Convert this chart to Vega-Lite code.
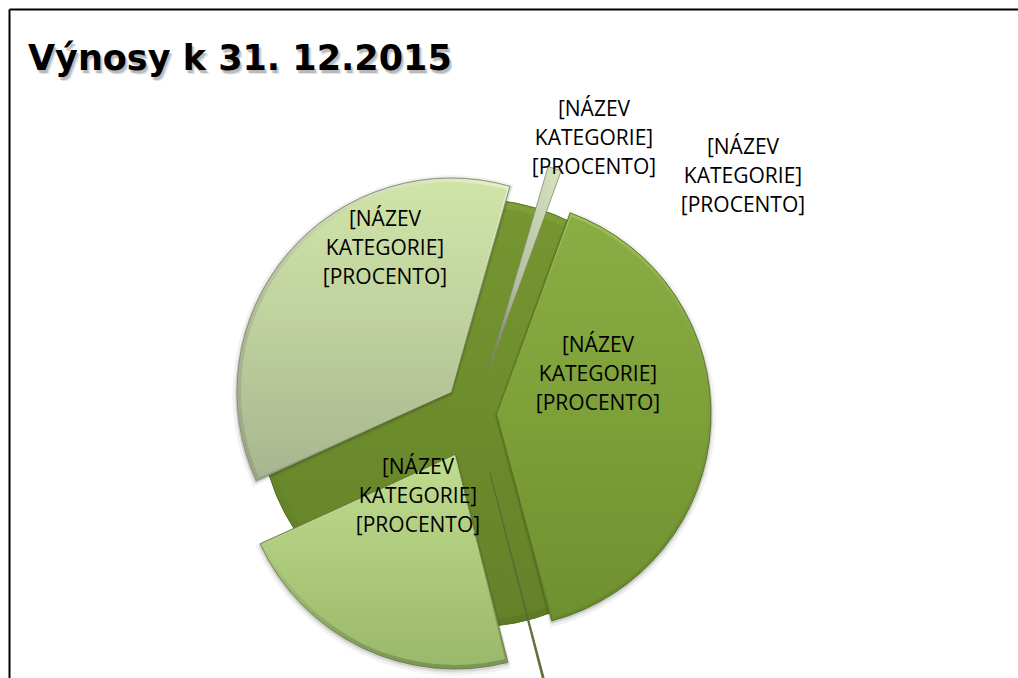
{
"$schema":"https://vega.github.io/schema/vega-lite/v6.json",
"width":1009,"height":669,"autosize":{"type":"none"},"padding":{"left":9,"top":9,"right":0,"bottom":0},
"background":"white","view":{"stroke":null},
"datasets":{
"slices":[
{"slice":"pie","start":0,"end":360,"cx":0,"cy":0},
{"slice":"a","start":20,"end":165.2,"cx":23,"cy":-1},
{"slice":"b","start":165.2,"end":165.7,"cx":16,"cy":-60},
{"slice":"c","start":165.7,"end":245.5,"cx":-19,"cy":-42},
{"slice":"d","start":245.5,"end":376,"cx":-23,"cy":21},
{"slice":"e","start":16.3,"end":20,"cx":14,"cy":41}
],
"labels":[
{"label":"[NÁZEV\nKATEGORIE]\n[PROCENTO]","cx":120,"cy":303},
{"label":"[NÁZEV\nKATEGORIE]\n[PROCENTO]","cx":269,"cy":265},
{"label":"[NÁZEV\nKATEGORIE]\n[PROCENTO]","cx":-89,"cy":193},
{"label":"[NÁZEV\nKATEGORIE]\n[PROCENTO]","cx":124,"cy":67},
{"label":"[NÁZEV\nKATEGORIE]\n[PROCENTO]","cx":-56,"cy":-55}
],
"title":[{"label":"Výnosy k 31. 12.2015","cx":-446,"cy":343}]
},
"encoding":{
"x":{"field":"cx","type":"quantitative","scale":{"domain":[-465,544],"nice":false,"zero":false},"axis":{"orient":"top","title":null,"labels":false,"ticks":false,"grid":false,"domain":true,"domainColor":"#000000","domainWidth":2}},
"y":{"field":"cy","type":"quantitative","scale":{"domain":[-265,404],"nice":false,"zero":false},"axis":{"orient":"left","title":null,"labels":false,"ticks":false,"grid":false,"domain":true,"domainColor":"#000000","domainWidth":2}}
},
"layer":[
{"data":{"name":"slices"},
"encoding":{
"theta":{"field":"start","type":"quantitative","stack":null,"scale":{"domain":[0,360],"range":[0,6.283185],"nice":false,"zero":false}},
"theta2":{"field":"end"}
},
"layer":[
{"transform":[{"filter":"datum.slice==='pie'"}],"mark":{"type":"arc","outerRadius":214,"fill":{"gradient":"linear","x1":0,"y1":0,"x2":0,"y2":1,"stops":[{"offset":0,"color":"#7f9f38"},{"offset":0.5,"color":"#6b8a2c"},{"offset":1,"color":"#5d7a25"}]},"stroke":"#55701f","strokeWidth":1}},
{"transform":[{"filter":"datum.slice==='pie'"}],"mark":{"type":"arc","outerRadius":207,"fill":{"gradient":"linear","x1":0,"y1":0,"x2":0,"y2":1,"stops":[{"offset":0,"color":"#769632"},{"offset":0.5,"color":"#6d8c2c"},{"offset":1,"color":"#648228"}]}}},
{"transform":[{"filter":"datum.slice==='a'||datum.slice==='c'||datum.slice==='d'"}],"mark":{"type":"arc","outerRadius":216,"fill":"#000000","fillOpacity":0.05,"stroke":"#000000","strokeOpacity":0.05,"strokeWidth":5,"yOffset":2}},
{"transform":[{"filter":"datum.slice==='a'||datum.slice==='c'||datum.slice==='d'"}],"mark":{"type":"arc","outerRadius":214,"fill":"#000000","fillOpacity":0.08,"stroke":"#000000","strokeOpacity":0.1,"strokeWidth":3,"yOffset":1}},
{"transform":[{"filter":"datum.slice==='b'"}],"mark":{"type":"arc","outerRadius":214,"fill":"#5c6c38","stroke":"#5c6c38","strokeWidth":0.9}},
{"transform":[{"filter":"datum.slice==='e'"}],"mark":{"type":"arc","outerRadius":214,"fill":{"gradient":"linear","x1":1,"y1":0,"x2":0,"y2":1,"stops":[{"offset":0,"color":"#d9e4c2"},{"offset":0.6,"color":"#b4bfa0"},{"offset":1,"color":"#6d7558"}]},"stroke":"#7f8968","strokeWidth":0.8}},
{"transform":[{"filter":"datum.slice==='d'"}],"mark":{"type":"arc","outerRadius":214,"fill":{"gradient":"linear","x1":0.9,"y1":0,"x2":0.1,"y2":1,"stops":[{"offset":0,"color":"#e2efc5"},{"offset":1,"color":"#9aa684"}]},"stroke":"#8a9475","strokeWidth":1}},
{"transform":[{"filter":"datum.slice==='d'"}],"mark":{"type":"arc","outerRadius":210,"padAngle":0.02,"fill":{"gradient":"linear","x1":0,"y1":0,"x2":0,"y2":1,"stops":[{"offset":0,"color":"#d0e4a8"},{"offset":0.45,"color":"#c0d29e"},{"offset":1,"color":"#a8b690"}]}}},
{"transform":[{"filter":"datum.slice==='a'"}],"mark":{"type":"arc","outerRadius":214,"fill":{"gradient":"linear","x1":0.2,"y1":0,"x2":0.4,"y2":1,"stops":[{"offset":0,"color":"#a2c458"},{"offset":1,"color":"#65852b"}]},"stroke":"#5d7727","strokeWidth":1}},
{"transform":[{"filter":"datum.slice==='a'"}],"mark":{"type":"arc","outerRadius":211,"padAngle":0.018,"fill":{"gradient":"linear","x1":0,"y1":0,"x2":0,"y2":1,"stops":[{"offset":0,"color":"#8aad45"},{"offset":0.5,"color":"#7da038"},{"offset":1,"color":"#6f9030"}]}}},
{"transform":[{"filter":"datum.slice==='c'"}],"mark":{"type":"arc","outerRadius":214,"fill":{"gradient":"linear","x1":0.5,"y1":0,"x2":0.5,"y2":1,"stops":[{"offset":0,"color":"#e4f2bd"},{"offset":0.5,"color":"#a9c67a"},{"offset":1,"color":"#7a9455"}]},"stroke":"#6e8349","strokeWidth":1}},
{"transform":[{"filter":"datum.slice==='c'"}],"mark":{"type":"arc","outerRadius":210,"padAngle":0.02,"fill":{"gradient":"linear","x1":0,"y1":0,"x2":0,"y2":1,"stops":[{"offset":0,"color":"#c0dc90"},{"offset":0.5,"color":"#aeca7c"},{"offset":1,"color":"#9bb96a"}]}}}
]},
{"data":{"name":"labels"},"mark":{"type":"text","font":"Open Sans","fontSize":21,"color":"#000000","align":"center","baseline":"middle","lineBreak":"\n","lineHeight":29},"encoding":{"text":{"field":"label"}}},
{"data":{"name":"title"},"mark":{"type":"text","font":"DejaVu Sans","fontWeight":"bold","fontSize":35,"color":"#000000","opacity":0.1,"align":"left","baseline":"alphabetic","xOffset":3,"yOffset":4},"encoding":{"text":{"field":"label"}}},
{"data":{"name":"title"},"mark":{"type":"text","font":"DejaVu Sans","fontWeight":"bold","fontSize":35,"color":"#000000","opacity":0.18,"align":"left","baseline":"alphabetic","xOffset":1.5,"yOffset":2.5},"encoding":{"text":{"field":"label"}}},
{"data":{"name":"title"},"mark":{"type":"text","font":"DejaVu Sans","fontWeight":"bold","fontSize":35,"color":"#000000","align":"left","baseline":"alphabetic"},"encoding":{"text":{"field":"label"}}}
]
}
